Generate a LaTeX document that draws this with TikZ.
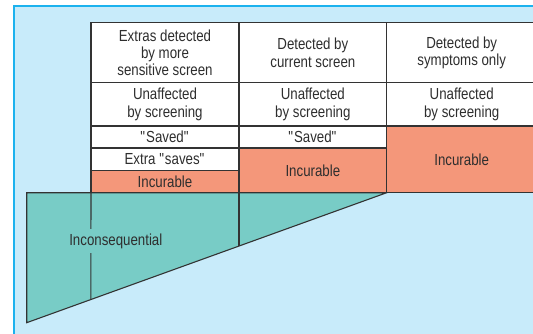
\documentclass[tikz,border=0pt]{standalone}
\usepackage{fontspec}
\setmainfont{Liberation Sans}[FakeStretch=0.83]
\definecolor{bgblue}{HTML}{C8EBFA}
\definecolor{edgeblue}{HTML}{1CB2EE}
\definecolor{salmon}{HTML}{F4977A}
\definecolor{tealfill}{HTML}{78CCC6}
\definecolor{linec}{HTML}{333333}
\definecolor{textc}{HTML}{2E2E2E}
\newcommand{\dq}{\textquotedbl}
\begin{document}
\begin{tikzpicture}[x=1pt,y=-1pt,
  lbl/.style={text=textc, font=\fontsize{16}{17.2}\selectfont},
  cell/.style={lbl, draw=linec, line width=1.1pt, anchor=north west,
    inner sep=0pt, outer sep=0pt, align=center},
  plain/.style={cell, fill=white},
  cure/.style={cell, fill=salmon},
  rule/.style={draw=linec, line width=1.1pt}]
\useasboundingbox (0,0) rectangle (533,333);
% panel background with its top and left edge
\fill[bgblue] (14,6) rectangle (540,340);
\draw[edgeblue, line width=1.6pt] (14,340) -- (14,6) -- (540,6);

% column A: extras detected by a more sensitive screen
\node[plain, minimum width=148pt, minimum height=60pt] (a1) at (91,22.7)
  {Extras detected\\by more\\sensitive screen};
\node[plain, minimum width=148pt, minimum height=43.3pt] (a2) at (91,82.7)
  {Unaffected\\by screening};
\node[plain, minimum width=148pt, minimum height=22pt] (a3) at (91,126)
  {\dq Saved\dq};
\node[plain, minimum width=148pt, minimum height=22.7pt] (a4) at (91,148)
  {Extra \dq saves\dq};
\node[cure, minimum width=148pt, minimum height=22pt] (a5) at (91,170.7)
  {Incurable};

% column B: detected by the current screen
\node[plain, minimum width=147.7pt, minimum height=60pt] (b1) at (239,22.7)
  {Detected by\\current screen};
\node[plain, minimum width=147.7pt, minimum height=43.3pt] (b2) at (239,82.7)
  {Unaffected\\by screening};
\node[plain, minimum width=147.7pt, minimum height=22pt] (b3) at (239,126)
  {\dq Saved\dq};
\node[cure, minimum width=147.7pt, minimum height=44.7pt] (b4) at (239,148)
  {Incurable};

% column C: detected by symptoms only
\node[plain, minimum width=150pt, minimum height=60pt] (c1) at (386.7,22.7)
  {Detected by\\symptoms only};
\node[plain, minimum width=150pt, minimum height=43.3pt] (c2) at (386.7,82.7)
  {Unaffected\\by screening};
\node[cure, minimum width=150pt, minimum height=66.7pt] (c3) at (386.7,126)
  {Incurable};

% inconsequential wedge
\coordinate (tl) at (26.7,192.7);
\coordinate (tr) at (386.7,192.7);
\coordinate (bl) at (26.7,322.7);
\coordinate (d1) at (90.8,299.6);
\coordinate (d2) at (239,246.0);
\filldraw[fill=tealfill, rule] (tl) -- (tr) -- (bl) -- cycle;
\draw[rule] (a5.south west) -- (d1);
\draw[rule] (b4.south west) -- (d2);
\node[lbl, fill=tealfill, inner xsep=0pt, inner ysep=4.5pt] (inc) at (115.8,241)
  {Inconsequential};
\end{tikzpicture}
\end{document}
